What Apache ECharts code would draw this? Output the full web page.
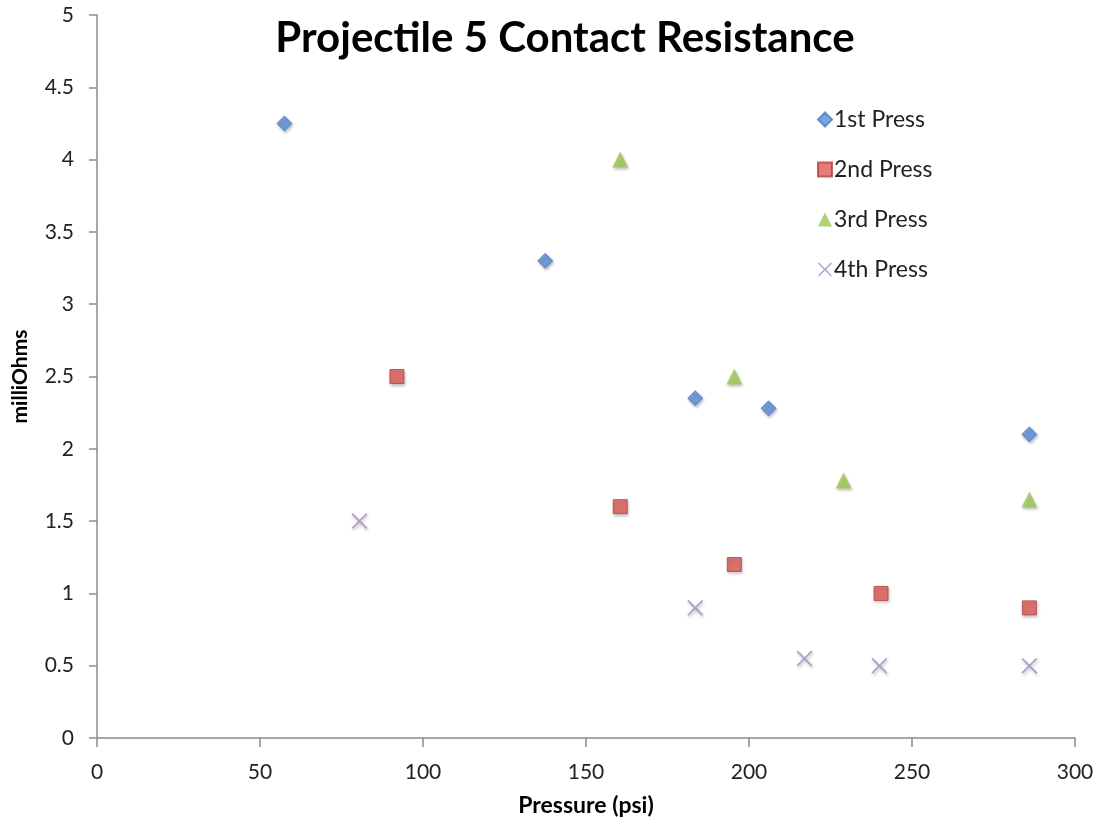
<!DOCTYPE html>
<html>
<head>
<meta charset="utf-8">
<script src="https://cdn.jsdelivr.net/npm/echarts@6/dist/echarts.min.js"></script>
<style>
  html, body { margin: 0; padding: 0; background: #fff; }
  #chart { width: 1102px; height: 821px; }
</style>
</head>
<body>
<div id="chart"></div>
<script>
// Contact resistance (milliOhms) measured at each pressure (psi), per press
const press1 = [[57.5, 4.25], [137.5, 3.3], [183.5, 2.35], [206, 2.28], [286, 2.1]];
const press2 = [[92, 2.5], [160.5, 1.6], [195.5, 1.2], [240.5, 1.0], [286, 0.9]];
const press3 = [[160.5, 4.0], [195.5, 2.5], [229, 1.78], [286, 1.65]];
const press4 = [[80.5, 1.5], [183.5, 0.9], [217, 0.55], [240, 0.5], [286, 0.5]];
const seriesNames = ['1st Press', '2nd Press', '3rd Press', '4th Press'];

const crossPath = 'path://M0,0.8L0.8,0L5,4.2L9.2,0L10,0.8L5.8,5L10,9.2L9.2,10L5,5.8L0.8,10L0,9.2L4.2,5Z';
const font = 'Lato, Carlito, sans-serif';
const shadow = { shadowBlur: 3, shadowOffsetX: 1, shadowOffsetY: 2, shadowColor: 'rgba(0,0,0,0.3)' };

function scatter(name, data, symbol, size, color, border) {
  return {
    name: name, type: 'scatter', data: data, symbol: symbol, symbolSize: size,
    itemStyle: Object.assign({ color: color, borderColor: border, borderWidth: border ? 1 : 0 }, shadow)
  };
}

const chart = echarts.init(document.getElementById('chart'), null, { renderer: 'canvas' });
chart.setOption({
  animation: false,
  backgroundColor: '#ffffff',
  title: {
    text: 'Projectile 5 Contact Resistance',
    left: 560, top: 12, textAlign: 'center',
    textStyle: { fontFamily: font, fontWeight: 'bold', fontSize: 42, color: '#000' }
  },
  legend: {
    orient: 'vertical', left: 812, top: 103, itemGap: 27, itemWidth: 14, itemHeight: 14,
    data: seriesNames,
    textStyle: { fontFamily: font, fontSize: 23, color: '#222', padding: [0, 0, 0, -3] }
  },
  grid: { left: 97, right: 27, top: 15, bottom: 83, outerBoundsMode: 'none', containLabel: false },
  xAxis: {
    type: 'value', min: 0, max: 300, interval: 50,
    name: 'Pressure (psi)', nameLocation: 'middle', nameGap: 56,
    nameTextStyle: { fontFamily: font, fontWeight: 'bold', fontSize: 23, color: '#000' },
    axisLine: { show: true, lineStyle: { color: '#8c8c8c', width: 1.5 } },
    axisTick: { show: true, length: 9, lineStyle: { color: '#8c8c8c', width: 1.5 } },
    axisLabel: { fontFamily: font, fontSize: 21, color: '#222', margin: 24 },
    splitLine: { show: false }
  },
  yAxis: {
    type: 'value', min: 0, max: 5, interval: 0.5,
    name: 'milliOhms', nameLocation: 'middle', nameGap: 66, nameRotate: 90,
    nameTextStyle: { fontFamily: font, fontWeight: 'bold', fontSize: 21, color: '#000' },
    axisLine: { show: true, lineStyle: { color: '#8c8c8c', width: 1.5 } },
    axisTick: { show: true, length: 8, lineStyle: { color: '#8c8c8c', width: 1.5 } },
    axisLabel: { fontFamily: font, fontSize: 21, color: '#222', margin: 23 },
    splitLine: { show: false }
  },
  series: [
    scatter(seriesNames[0], press1, 'diamond', 15, '#5a8fd8', '#4a7bc0'),
    scatter(seriesNames[1], press2, 'rect', 14, '#e05a55', '#b8403c'),
    scatter(seriesNames[2], press3, 'triangle', 16, '#9bc450', null),
    scatter(seriesNames[3], press4, crossPath, 16, '#a48cc6', null)
  ]
});
</script>
</body>
</html>
